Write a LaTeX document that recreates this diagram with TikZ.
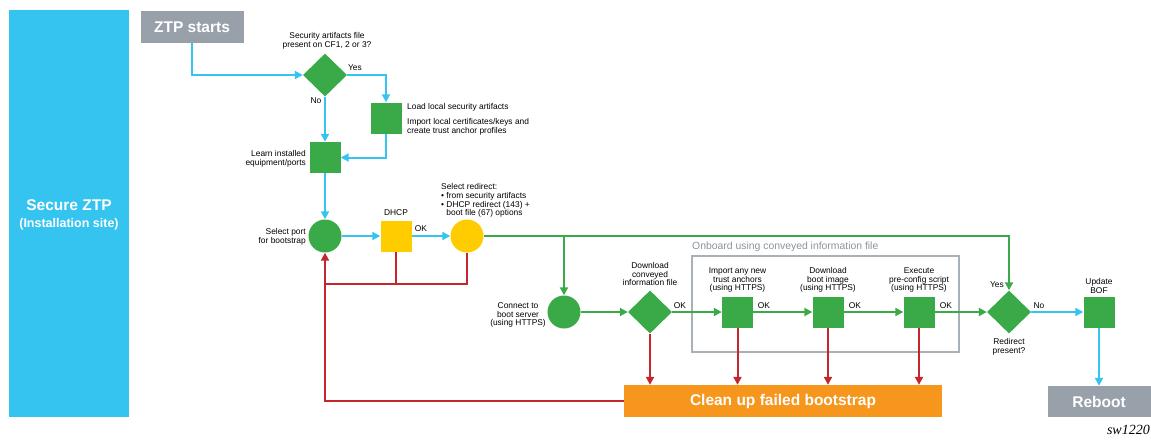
\documentclass[tikz,border=0pt]{standalone}
\usepackage{fontspec}
\setmainfont{Liberation Sans}
\newfontfamily\swfont{Liberation Serif}
\usetikzlibrary{shapes.geometric,arrows.meta}
\definecolor{zblue}{HTML}{35C4F0}
\definecolor{zgreen}{HTML}{3AAA48}
\definecolor{zred}{HTML}{C4262E}
\definecolor{zgray}{HTML}{98A1AA}
\definecolor{zyellow}{HTML}{FFCC00}
\definecolor{zorange}{HTML}{F7961D}
\definecolor{zframe}{HTML}{A8B0B8}
\definecolor{zlabel}{HTML}{8A949C}
\begin{document}
\begin{tikzpicture}[x=1pt,y=-1pt,
  sq/.style={fill=zgreen, minimum size=31pt, inner sep=0pt},
  dia/.style={diamond, fill=zgreen, minimum width=44pt, minimum height=43pt, inner sep=0pt},
  circ/.style={circle, fill=zgreen, minimum size=33pt, inner sep=0pt},
  lbl/.style={font=\fontsize{8.4}{8.7}\selectfont, inner sep=0pt, align=center},
  big/.style={font=\fontsize{15.5}{18}\selectfont\bfseries, text=white, inner sep=0pt},
  tip/.style={-{Triangle[length=8pt,width=8pt]}},
  bl/.style={draw=zblue, line width=2pt},
  gr/.style={draw=zgreen, line width=2pt},
  rd/.style={draw=zred, line width=2pt},
]
\useasboundingbox (0,0) rectangle (1151,440);

% left panel
\node[fill=zblue, minimum width=120pt, minimum height=407pt, inner sep=0pt] (panel) at (69,213.5) {};
\node[big] (ptitle) at (69,205) {Secure ZTP};
\node[font=\fontsize{12.5}{15}\selectfont\bfseries, text=white, inner sep=0pt] (psub) at (69,224) {(Installation site)};

% start
\node[fill=zgray, minimum width=103pt, minimum height=32pt, big] (start) at (192,27) {ZTP starts};

% first decision
\node[dia] (d1) at (325,75) {};
\node[lbl] (d1t) at (327,41) {Security artifacts file\\present on CF1, 2 or 3?};
\node[lbl] (yes1) at (355,68) {Yes};
\node[lbl] (no1) at (316,101) {No};

\node[sq] (L1) at (386,118) {};
\node[lbl, anchor=west] (L1a) at (407,107) {Load local security artifacts};
\node[lbl, anchor=west, align=left] (L1b) at (407,126.5) {Import local certificates/keys and\\create trust anchor profiles};

\node[sq] (L2) at (325,157.5) {};
\node[lbl, anchor=east, align=right] (L2t) at (306,158.5) {Learn installed\\equipment/ports};

\node[circ] (c1) at (325,236) {};
\node[lbl, anchor=east, align=right] (c1t) at (306,237) {Select port\\for bootstrap};

\node[sq, fill=zyellow] (dhcp) at (396,236) {};
\node[lbl] (dhcpt) at (396,213) {DHCP};
\node[lbl] (ok0) at (421,229) {OK};

\node[circ, fill=zyellow] (c2) at (467,236) {};
\node[lbl, anchor=west, align=left] (c2t) at (441,200.5) {Select redirect:\\\textbullet\ from security artifacts\\\textbullet\ DHCP redirect (143) +\\\phantom{\textbullet\ }boot file (67) options};

\coordinate (rj) at (325,284);

% second row
\node[circ] (c3) at (564,312) {};
\node[lbl, anchor=east] (c3t) at (546,315) {Connect to\\boot server\\(using HTTPS)};

\node[dia] (d2) at (650,312) {};
\node[lbl] (d2t) at (650,274) {Download\\conveyed\\information file};

\draw[zframe, line width=1.2pt] (692,256) rectangle (959,352);
\node[font=\fontsize{10.4}{12}\selectfont, text=zlabel, anchor=west, inner sep=0pt] (grp) at (692,247) {Onboard using conveyed information file};

\node[sq] (B1) at (737.5,312) {};
\node[lbl] (B1t) at (737.5,280) {Import any new\\trust anchors\\(using HTTPS)};
\node[sq] (B2) at (828,312) {};
\node[lbl] (B2t) at (828,280) {Download\\boot image\\(using HTTPS)};
\node[sq] (B3) at (919,312) {};
\node[lbl] (B3t) at (919,280) {Execute\\pre-config script\\(using HTTPS)};

\node[lbl] (ok1) at (680,306) {OK};
\node[lbl] (ok2) at (764,306) {OK};
\node[lbl] (ok3) at (855,306) {OK};
\node[lbl] (ok4) at (946,306) {OK};

\node[dia] (d3) at (1009,312) {};
\node[lbl] (yes3) at (997,285) {Yes};
\node[lbl] (no3) at (1039,306) {No};
\node[lbl] (d3t) at (1009,347) {Redirect\\present?};

\node[sq] (B4) at (1099,312) {};
\node[lbl] (B4t) at (1099,286) {Update\\BOF};

\node[fill=zgray, minimum width=103pt, minimum height=31pt, big] (reboot) at (1099,401.5) {Reboot};
\node[fill=zorange, minimum width=318pt, minimum height=32pt, big] (clean) at (783,401) {Clean up failed bootstrap};

\node[font=\fontsize{14}{16}\selectfont\swfont\itshape, anchor=east, inner sep=0pt] (sw) at (1150,430) {sw1220};

% blue connectors
\draw[bl, tip] (start.south) |- (d1.west);
\draw[bl, tip] (d1.east) -| (L1.north);
\draw[bl, tip] (d1.south) -- (L2.north);
\draw[bl, tip] (L1.south) |- (L2.east);
\draw[bl, tip] (L2.south) -- (c1.north);
\draw[bl, tip] (c1.east) -- (dhcp.west);
\draw[bl, tip] (dhcp.east) -- (c2.west);
\draw[bl, tip] (d3.east) -- (B4.west);
\draw[bl, tip] (B4.south) -- (reboot.north);

% red connectors
\draw[rd] (dhcp.south) -- (dhcp.south |- rj);
\draw[rd] (c2.south) |- (rj);
\draw[rd, tip] (clean.west) -| (c1.south);
\draw[rd, tip] (d2.south) -- (d2.south |- clean.north);
\draw[rd, tip] (B1.south) -- (B1.south |- clean.north);
\draw[rd, tip] (B2.south) -- (B2.south |- clean.north);
\draw[rd, tip] (B3.south) -- (B3.south |- clean.north);

% green connectors
\draw[gr, tip] (c2.east) -| (d3.north);
\draw[gr, tip] (c3.north |- c2.east) -- (c3.north);
\draw[gr, tip] (c3.east) -- (d2.west);
\draw[gr, tip] (d2.east) -- (B1.west);
\draw[gr, tip] (B1.east) -- (B2.west);
\draw[gr, tip] (B2.east) -- (B3.west);
\draw[gr, tip] (B3.east) -- (d3.west);
\end{tikzpicture}
\end{document}
